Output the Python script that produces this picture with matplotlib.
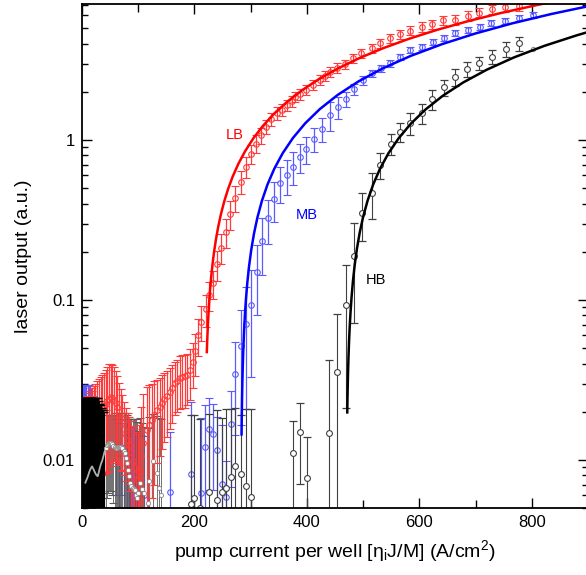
import numpy as np
import matplotlib
matplotlib.use("Agg")
from matplotlib import pyplot as plt

plt.rcParams['font.family'] = ['Liberation Sans', 'DejaVu Sans']
plt.rcParams['mathtext.fontset'] = 'custom'
plt.rcParams['mathtext.rm'] = 'Liberation Sans'
plt.rcParams['mathtext.it'] = 'Liberation Sans:italic'

# Curvas ajustadas (limiar + reta)
lb_fit_x = [222, 222.5, 223, 224, 225, 226.5, 228, 230, 232.5, 235, 238, 242, 247, 253, 260, 268,
            278, 290, 305, 322, 342, 365, 392, 422, 456, 494, 536, 582, 632, 686, 744, 811, 840]
lb_fit_y = [0.0472, 0.0531, 0.059, 0.0708, 0.0826, 0.1003, 0.118, 0.1416, 0.1711, 0.2006, 0.236,
            0.2832, 0.3422, 0.413, 0.4956, 0.59, 0.708, 0.8496, 1.0266, 1.2272, 1.4632, 1.7346,
            2.0532, 2.4072, 2.8084, 3.2568, 3.7524, 4.2952, 4.8852, 5.5224, 6.2068, 6.9974, 7.3396]
mb_fit_x = [283.8, 284.2, 284.7, 285.3, 286, 287, 288.2, 289.7, 291.5, 294, 297, 301, 306, 312,
            320, 330, 342, 357, 375, 397, 423, 455, 492, 535, 585, 640, 700, 765, 835, 905]
mb_fit_y = [0.01443, 0.01887, 0.02442, 0.03108, 0.03885, 0.04995, 0.06327, 0.07992, 0.0999,
            0.12765, 0.16095, 0.20535, 0.26085, 0.32745, 0.41625, 0.52725, 0.66045, 0.82695,
            1.02675, 1.27095, 1.55955, 1.91475, 2.32545, 2.80275, 3.35775, 3.96825, 4.63425,
            5.35575, 6.13275, 6.91]
hb_fit_x = [471.8, 472.2, 472.7, 473.3, 474, 475, 476.2, 477.7, 479.5, 482, 485, 489, 494, 500,
            508, 518, 530, 545, 563, 585, 611, 642, 678, 720, 768, 822, 880, 905]
hb_fit_y = [0.0198, 0.0242, 0.0297, 0.0363, 0.044, 0.055, 0.0682, 0.0847, 0.1045, 0.132, 0.165,
            0.209, 0.264, 0.33, 0.418, 0.528, 0.66, 0.825, 1.023, 1.265, 1.551, 1.892, 2.288,
            2.75, 3.278, 3.872, 4.51, 4.785]

# LB (vermelho) - dados medidos
lb_x = [0, 3, 6, 9, 12, 15, 18, 21, 24, 27, 30, 33, 36, 39, 42, 45, 48, 51, 54, 57, 60, 63, 66,
        69, 72, 75, 78, 81, 84, 87, 90, 93, 96, 99, 102,
        105, 109, 115, 120, 124, 128, 133, 138, 142, 146, 150.5, 156, 160, 165, 169, 174, 178,
        183, 187, 192, 197, 201, 206, 211.5, 220, 226, 233, 240.6, 248, 256, 264, 273, 282,
        291, 300, 309, 319, 328, 337, 346, 355, 364, 373, 379, 388, 399, 411, 423, 432, 441,
        453, 468, 482, 497, 515, 530, 548, 565, 583, 604, 623, 642, 663, 686, 706, 730, 753, 777]
lb_y = [0.018, 0.018, 0.018, 0.0182, 0.0184, 0.0186, 0.0188, 0.019, 0.0193, 0.0196, 0.02,
        0.0205, 0.021, 0.0216, 0.0224, 0.0232, 0.024, 0.0246, 0.0244, 0.0238, 0.0228, 0.0215,
        0.0198, 0.0182, 0.017, 0.0155, 0.0142, 0.0133, 0.0124, 0.0112, 0.0098, 0.009, 0.0082,
        0.0075, 0.0085,
        0.0105, 0.0128, 0.0154, 0.0165, 0.0178, 0.019, 0.0205, 0.0215, 0.0227, 0.024, 0.0249,
        0.0267, 0.028, 0.0302, 0.031, 0.0327, 0.033, 0.0332, 0.034, 0.0366, 0.041, 0.0476,
        0.0604, 0.073, 0.088, 0.107, 0.127, 0.167, 0.212, 0.267, 0.343, 0.435, 0.548, 0.68,
        0.82, 0.95, 1.07, 1.21, 1.35, 1.47, 1.54, 1.65, 1.74, 1.86, 1.93, 2.05, 2.21, 2.37,
        2.51, 2.67, 2.81, 2.98, 3.24, 3.48, 3.74, 4.02, 4.32, 4.57, 4.82, 5.1, 5.31, 5.62,
        5.62, 5.96, 6.25, 6.56, 6.76, 6.83]
lb_err = [0.004, 0.005, 0.006, 0.0068, 0.0076, 0.0084, 0.0092, 0.010, 0.0107, 0.0114, 0.012,
          0.0125, 0.013, 0.0134, 0.0141, 0.0148, 0.0155, 0.0154, 0.0148, 0.014, 0.013, 0.012,
          0.0105, 0.0095, 0.0085, 0.0075, 0.0068, 0.0062, 0.006, 0.0062, 0.0065, 0.0066, 0.0068,
          0.007, 0.008,
          0.011, 0.013, 0.013, 0.013, 0.012, 0.012, 0.011, 0.011, 0.011, 0.011, 0.011, 0.011,
          0.011, 0.011, 0.011, 0.012, 0.012, 0.012, 0.012, 0.013, 0.013, 0.014, 0.016, 0.018,
          0.02, 0.022, 0.025, 0.035, 0.045, 0.055, 0.07, 0.08, 0.09, 0.10, 0.11, 0.12, 0.12,
          0.12, 0.13, 0.13, 0.13, 0.14, 0.14, 0.14, 0.15, 0.15, 0.16, 0.17, 0.18, 0.19, 0.2,
          0.2, 0.22, 0.23, 0.25, 0.27, 0.28, 0.3, 0.32, 0.34, 0.35, 0.37, 0.38, 0.4, 0.42,
          0.44, 0.45, 0.45]

# MB (azul) - dados medidos
mb_x = [0, 2, 4, 6, 8, 10, 12, 14, 16, 18, 20,
        60, 65, 70, 75, 80, 83, 86, 89, 92, 95, 98, 101, 105, 110,
        156, 193, 211.5, 218.7, 226, 233, 240.6, 249, 256, 265, 273, 282, 291.6, 300, 310.5,
        321, 331, 342, 352, 364, 375, 388, 399, 413, 427, 441, 454.5, 469, 483.5, 499, 515,
        531, 548, 565, 584, 604, 625, 644, 664, 687, 708, 728, 752, 777, 802]
mb_y = [0.017, 0.017, 0.017, 0.017, 0.017, 0.017, 0.017, 0.0168, 0.0165, 0.016, 0.0155,
        0.012, 0.011, 0.012, 0.011, 0.0105, 0.0095, 0.009, 0.0083, 0.008, 0.0076, 0.0072,
        0.0068, 0.0062, 0.006,
        0.0063, 0.0081, 0.0062, 0.0121, 0.0155, 0.0145, 0.01155, 0.0071, 0.0059, 0.0168,
        0.0343, 0.0516, 0.0708, 0.093, 0.150, 0.234, 0.324, 0.428, 0.541, 0.604, 0.68, 0.78,
        0.875, 1.01, 1.17, 1.43, 1.61, 1.80, 2.07, 2.37, 2.61, 2.81, 3.01, 3.32, 3.65, 3.83,
        4.12, 4.32, 4.64, 4.87, 5.1, 5.37, 5.57, 5.76, 6.03]
mb_err = [0.0125, 0.0125, 0.0125, 0.0125, 0.0125, 0.0125, 0.0125, 0.0122, 0.0115, 0.011, 0.0095,
          0.006, 0.006, 0.006, 0.006, 0.0062, 0.0065, 0.0068, 0.007, 0.0072, 0.0074, 0.0076,
          0.0078, 0.008, 0.008,
          0.0087, 0.015, 0.012, 0.010, 0.009, 0.008, 0.007, 0.0095, 0.004, 0.010, 0.020, 0.035,
          0.05, 0.06, 0.07, 0.09, 0.10, 0.12, 0.14, 0.15, 0.16, 0.16, 0.17, 0.17, 0.2, 0.3,
          0.25, 0.2, 0.17, 0.15, 0.14, 0.14, 0.15, 0.15, 0.16, 0.17, 0.18, 0.19, 0.2, 0.21,
          0.22, 0.23, 0.24, 0.25, 0.26]

# HB (preto) - região densa de baixa corrente
hb_blob_x = [0, 2, 4, 6, 8, 10, 12, 14, 16, 18, 20, 22, 24, 26, 28, 30, 32, 34, 36, 38, 40]
hb_blob_y = [0.004, 0.004, 0.004, 0.0072, 0.0075, 0.0078, 0.0082, 0.0086, 0.0089, 0.0091,
             0.0088, 0.0085, 0.0082, 0.008, 0.0079, 0.0084, 0.009, 0.0095, 0.0099, 0.0105, 0.0112]
hb_blob_err = [0.0204, 0.0204, 0.0204, 0.0172, 0.0169, 0.0166, 0.0162, 0.0158, 0.0155, 0.0153,
               0.0156, 0.0159, 0.0162, 0.0164, 0.0165, 0.0151, 0.0135, 0.0125, 0.0111, 0.01, 0.0088]

# HB (preto) - faixa densa 40-140 A/cm2
hb_mid_x = [42, 44, 46, 48, 50, 52, 54, 56, 58, 60, 62, 64, 66, 68, 70, 72, 74, 76, 78, 80, 82,
            84, 86, 88, 90, 92, 94, 96, 98, 100,
            103, 107, 111, 118, 119, 125.6, 132.7, 137.5, 141]
hb_mid_y = [0.0118, 0.0124, 0.0126, 0.0127, 0.0127, 0.0127, 0.0125, 0.0122, 0.012, 0.0118,
            0.0118, 0.012, 0.0121, 0.0121, 0.0121, 0.0118, 0.0114, 0.011, 0.0103, 0.0095, 0.0087,
            0.0079, 0.0072, 0.0069, 0.0067, 0.0066, 0.0065, 0.006, 0.0058, 0.0062,
            0.0072, 0.0066, 0.0062, 0.0054, 0.0074, 0.0098, 0.0083, 0.0067, 0.006]
hb_mid_err = [0.0087, 0.0066, 0.0064, 0.0063, 0.0063, 0.0063, 0.0065, 0.0068, 0.007, 0.0077,
              0.0077, 0.0075, 0.0074, 0.0074, 0.0074, 0.0077, 0.0081, 0.0085, 0.0092, 0.0095,
              0.0098, 0.0101, 0.0108, 0.0111, 0.0113, 0.0114, 0.0115, 0.012, 0.0115, 0.009,
              0.011, 0.0105, 0.0098, 0.0105, 0.011, 0.0095, 0.0105, 0.0115, 0.012]

# HB (preto) - demais pontos
hb_x = [194, 200, 210, 226, 241, 249, 257, 265, 273, 282, 292, 300,
        374.5, 387.6, 400.6, 439.7, 454, 469, 483, 498, 516, 530, 549, 565, 584, 604, 623, 643,
        663, 684, 706, 729, 754, 777]
hb_y = [0.0053, 0.0058, 0.005, 0.0063, 0.0056, 0.0063, 0.0067, 0.0078, 0.0092, 0.0082, 0.0069,
        0.0059,
        0.0110, 0.01483, 0.00769, 0.0148, 0.0356, 0.093, 0.187, 0.348, 0.469, 0.70, 0.944,
        1.12, 1.27, 1.47, 1.80, 2.13, 2.46, 2.78, 3.02, 3.32, 3.69, 4.02]
hb_err = [0.0137, 0.0132, 0.013, 0.013, 0.015, 0.012, 0.014, 0.013, 0.012, 0.011, 0.014, 0.015,
          0.0064, 0.0078, 0.0062, 0.027, 0.046, 0.072, 0.115, 0.115, 0.15, 0.13, 0.14, 0.15,
          0.2, 0.22, 0.25, 0.25, 0.3, 0.3, 0.3, 0.35, 0.4, 0.4]
hb_last_x = [802]
hb_last_y = [3.69]

fig = plt.figure(figsize=(5.86, 5.75), dpi=100)
ax = fig.add_axes([82 / 586, 1 - 508 / 575, 506 / 586, 504 / 575])

red_data = "#ff3a3a"
blue_data = "#5a5aff"
black_data = "#404040"

# Azul primeiro, depois vermelho, depois preto por cima
ax.errorbar(mb_x, mb_y, yerr=mb_err, fmt="o", ms=4, mfc="none", mec=blue_data, mew=0.8,
            ecolor=blue_data, elinewidth=0.9, capsize=3, capthick=0.9, color=blue_data, zorder=2)
ax.errorbar(lb_x, lb_y, yerr=lb_err, fmt="o", ms=4, mfc="none", mec=red_data, mew=0.8,
            ecolor=red_data, elinewidth=0.9, capsize=3, capthick=0.9, color=red_data, zorder=2.3)
ax.errorbar(hb_blob_x, hb_blob_y, yerr=hb_blob_err, fmt="none", ecolor="black",
            elinewidth=1.6, capsize=3, capthick=1.0, zorder=2.6)
ax.errorbar(hb_mid_x, hb_mid_y, yerr=hb_mid_err, fmt="none", ecolor="#5a5a5a",
            elinewidth=0.6, capsize=3, capthick=0.8, zorder=2.2)
ax.errorbar(hb_x, hb_y, yerr=hb_err, fmt="none", ecolor=black_data,
            elinewidth=0.8, capsize=3, capthick=0.9, zorder=2.6)
ax.plot(hb_blob_x[3:] + hb_mid_x[:14], hb_blob_y[3:] + hb_mid_y[:14], "-", color="#b0b0b0",
        lw=1.3, zorder=2.8)
ax.plot(hb_mid_x, hb_mid_y, "o", ms=3.0, mfc="white", mec="#888888", mew=0.6, lw=0, zorder=2.9)
ax.plot(hb_x, hb_y, "o", ms=4.2, mfc="white", mec=black_data, mew=0.8, lw=0, zorder=2.9)
ax.plot(hb_last_x, hb_last_y, "o", ms=3, mfc="white", mec="#888888", mew=0.8, zorder=2.9)

# Curvas ajustadas
ax.plot(lb_fit_x, lb_fit_y, color="#ff0000", lw=1.8, zorder=3)
ax.plot(mb_fit_x, mb_fit_y, color="#0000ff", lw=1.8, zorder=3)
ax.plot(hb_fit_x, hb_fit_y, color="black", lw=1.8, zorder=3)

ax.text(272, 1.07, "LB", color="#ff0000", fontsize=10.5, ha="center", va="center")
ax.text(400, 0.34, "MB", color="#0000ff", fontsize=10.5, ha="center", va="center")
ax.text(523, 0.133, "HB", color="black", fontsize=10.5, ha="center", va="center")

ax.set_yscale("log")
ax.set_xlim(0, 900)
ax.set_ylim(0.005, 7.08)
ax.set_xticks([0, 200, 400, 600, 800])
ax.set_xticks([100, 300, 500, 700, 900], minor=True)
ax.set_yticks([0.01, 0.1, 1])
ax.set_yticklabels(["0.01", "0.1", "1"])
ax.tick_params(which="both", direction="in", top=True, right=True, width=1.0, labelsize=12)
ax.tick_params(axis="y", which="major", length=7, pad=5)
ax.tick_params(axis="y", which="minor", length=4)
ax.tick_params(axis="x", which="major", length=7, pad=5)
ax.tick_params(axis="x", which="minor", length=6)
for s in ax.spines.values():
    s.set_linewidth(1.3)
    s.set_zorder(4)

ax.set_xlabel("pump current per well [η$_\\mathrm{i}$J/M] (A/cm$^2$)", fontsize=14, labelpad=6)
ax.set_ylabel("laser output (a.u.)", fontsize=14, labelpad=8)

plt.savefig("out.png", dpi=100)
